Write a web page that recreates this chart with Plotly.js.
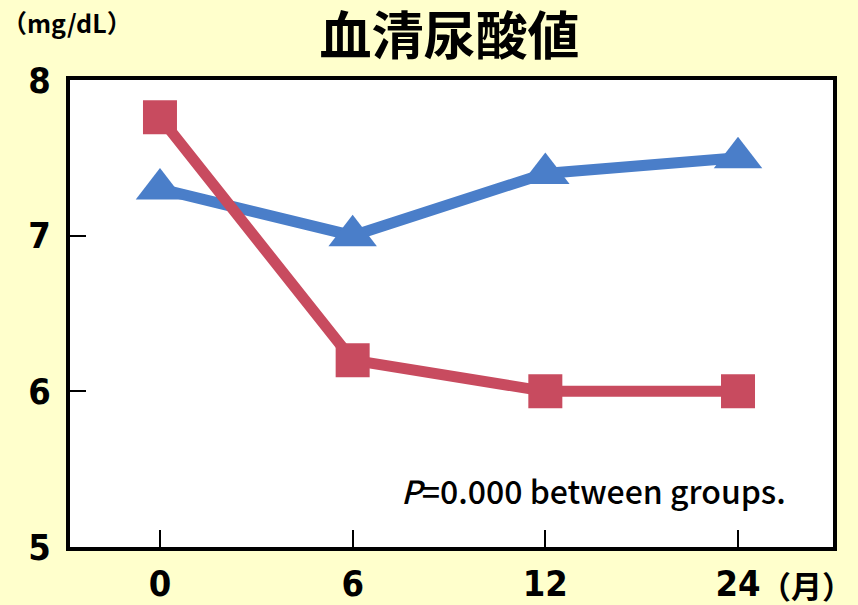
<!DOCTYPE html>
<html>
<head>
<meta charset="utf-8">
<script src="https://cdn.plot.ly/plotly-3.0.1.min.js"></script>
<style>
  html, body { margin: 0; padding: 0; background: #FFFFCC; }
  #chart { width: 858px; height: 605px; }
</style>
</head>
<body>
<div id="chart"></div>
<script>
// Months since baseline (category axis)
const months = ['0', '6', '12', '24'];
// Serum uric acid (mg/dL) per group
const groupBlue = [7.3, 7.0, 7.4, 7.5];
const groupRed = [7.76, 6.2, 6.0, 6.0];
// Y-axis ticks
const yTicks = [5, 6, 7, 8];

const tickFont = { family: '"DejaVu Sans Condensed", "Liberation Sans Narrow", sans-serif', size: 36, color: '#000', weight: 700 };
const jpFont = '"Noto Sans CJK JP", "Noto Sans", sans-serif';

const traces = [
  {
    x: months, y: groupBlue, type: 'scatter', mode: 'lines+markers',
    line: { color: '#4A7EC9', width: 11 },
    marker: { symbol: 'triangle-up', size: 42, color: '#4A7EC9' },
    hoverinfo: 'x+y'
  },
  {
    x: months, y: groupRed, type: 'scatter', mode: 'lines+markers',
    line: { color: '#C84B5F', width: 11 },
    marker: { symbol: 'square', size: 34, color: '#C84B5F' },
    hoverinfo: 'x+y'
  }
];

const layout = {
  width: 858, height: 605,
  margin: { l: 70, r: 25, t: 80, b: 58 },
  paper_bgcolor: '#FFFFCC',
  plot_bgcolor: '#FFFFFF',
  showlegend: false,
  title: {
    text: '血清尿酸値',
    font: { family: jpFont, size: 52, color: '#000', weight: 700 },
    x: 0.524, xanchor: 'center', y: 0.94, yanchor: 'middle'
  },
  xaxis: {
    type: 'category',
    range: [-0.467, 3.493],
    showline: true, linecolor: '#000', linewidth: 4, mirror: true,
    ticks: 'inside', ticklen: 17, tickwidth: 2, tickcolor: '#000',
    showgrid: false, zeroline: false,
    tickfont: tickFont,
    ticklabelstandoff: 2
  },
  yaxis: {
    range: [5, 8],
    tickvals: yTicks,
    showline: true, linecolor: '#000', linewidth: 4, mirror: true,
    ticks: 'inside', ticklen: 16, tickwidth: 2, tickcolor: '#000',
    showgrid: false, zeroline: false,
    tickfont: tickFont,
    ticklabelstandoff: 8
  },
  annotations: [
    {
      text: '（mg/dL）', xref: 'paper', yref: 'paper',
      x: -0.092, y: 1.125, xanchor: 'left', yanchor: 'middle',
      showarrow: false,
      font: { family: jpFont, size: 25, color: '#000', weight: 700 }
    },
    {
      text: '（月）', xref: 'paper', yref: 'paper',
      x: 1.029, y: -0.081, xanchor: 'right', yanchor: 'middle',
      showarrow: false,
      font: { family: jpFont, size: 31, color: '#000', weight: 700 }
    },
    {
      text: '<i>P</i>=0.000 between groups.', xref: 'paper', yref: 'paper',
      x: 0.941, y: 0.122, xanchor: 'right', yanchor: 'middle',
      showarrow: false,
      font: { family: jpFont, size: 32, color: '#000', weight: 500 }
    }
  ]
};

Plotly.newPlot('chart', traces, layout, { displayModeBar: false, staticPlot: true });
</script>
</body>
</html>
